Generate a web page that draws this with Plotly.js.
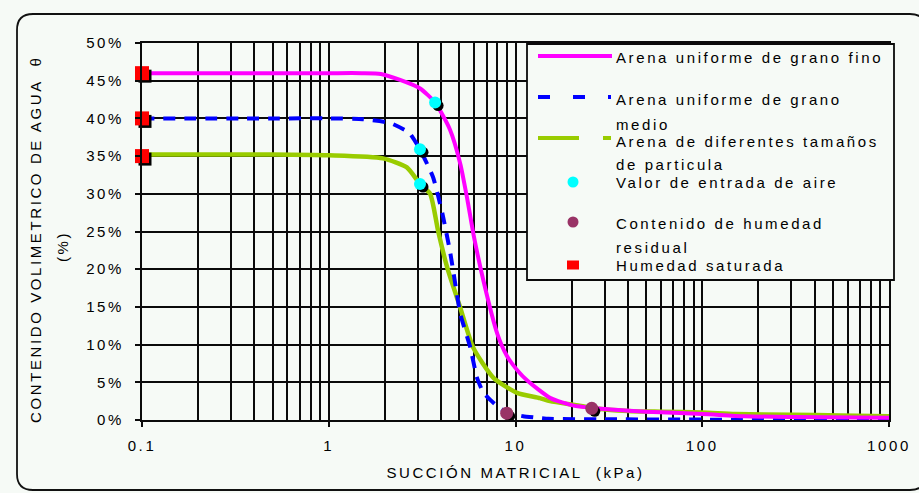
<!DOCTYPE html>
<html>
<head>
<meta charset="utf-8">
<script src="https://cdn.plot.ly/plotly-3.0.1.min.js"></script>
<style>
  html, body { margin: 0; padding: 0; background: #f6faf6; }
  #chart { width: 919px; height: 493px; }
  svg text { letter-spacing: 2.6px; }
</style>
</head>
<body>
<div id="chart"></div>
<script>
// Suction axis (kPa) decades and their labels
const decadeTicks = [0.1, 1, 10, 100, 1000];
const decadeLabels = ['0.1', '1', '10', '100', '1000'];
const minorSteps = [2, 3, 4, 5, 6, 7, 8, 9];

// Fine uniform sand
const fineX = [0.1, 0.5, 1, 1.5, 1.9, 2.41, 3.07, 3.71, 4.46, 5.06, 5.5, 5.95, 6.73, 8.0, 9.0, 10.3, 11.6, 15.4, 20.5, 26, 32.5, 50, 100, 168, 300, 1000];
const fineY = [46, 46, 46, 46, 45.9, 45.1, 44.0, 42.1, 38.5, 34.0, 29.5, 24.7, 18.5, 11.4, 8.5, 6.5, 5.2, 2.9, 1.9, 1.6, 1.4, 1.1, 0.8, 0.5, 0.4, 0.3];

// Medium uniform sand
const mediumX = [0.1, 0.5, 1, 1.52, 2.13, 2.7, 3.08, 3.62, 4.06, 4.48, 5.06, 5.73, 6.2, 6.7, 7.3, 8.0, 8.97, 10, 11, 13, 15, 30, 100, 1000];
const mediumY = [40, 40, 40, 39.9, 39.4, 38.1, 35.9, 32.2, 27.4, 22.1, 14.1, 9.6, 5.7, 3.7, 2.7, 1.8, 1.0, 0.7, 0.5, 0.3, 0.15, 0.1, 0.05, 0];

// Sand with mixed particle sizes
const mixedX = [0.1, 0.5, 1, 1.95, 2.62, 3.08, 3.49, 3.85, 4.31, 5.06, 5.94, 7.62, 10.2, 13.5, 15.3, 22, 25.6, 40, 60, 100, 150, 300, 550, 1000];
const mixedY = [35.2, 35.2, 35.1, 34.7, 33.5, 31.3, 30.0, 25.1, 20.2, 14.9, 9.6, 5.6, 3.6, 2.9, 2.5, 1.9, 1.6, 1.2, 1.1, 1.0, 0.8, 0.7, 0.6, 0.5];

// Air-entry values
const airEntryX = [3.71, 3.08, 3.08];
const airEntryY = [42.1, 35.9, 31.3];

// Residual water content
const residualX = [8.97, 25.6];
const residualY = [0.9, 1.55];

// Saturated water content
const saturatedX = [0.1, 0.1, 0.1];
const saturatedY = [46, 40, 35];

// Legend entries
const legendLines = [
  ['Arena uniforme de grano fino'],
  ['Arena uniforme de grano', 'medio'],
  ['Arena de diferentes tamaños', 'de particula'],
  ['Valor de entrada de aire'],
  ['Contenido de humedad', 'residual'],
  ['Humedad saturada']
];

// ---- plot geometry (pixels) ----
const W = 919, H = 493;
const mL = 142, mR = 30, mT = 43, mB = 73;
const plotW = W - mL - mR, plotH = H - mT - mB;
const px2x = p => (p - mL) / plotW;
const px2y = p => (H - mB - p) / plotH;
const xMin = -1, xMax = 3, yMax = 50;
const pxPerDecade = plotW / (xMax - xMin);
const pxPerUnitY = plotH / yMax;

const minorVals = [];
decadeTicks.slice(0, -1).forEach(d => minorSteps.forEach(m => minorVals.push(d * m)));

// drop shadow for point markers: a few pixels right and down
const shX = v => v * Math.pow(10, 3 / pxPerDecade);
const shY = v => v - 3 / pxPerUnitY;

const txt = '#000';
const FONT = 'Liberation Sans, Arial, sans-serif';
const GRID = '#0a0a0a';

const traces = [
  { x: mixedX, y: mixedY, mode: 'lines', line: { color: '#99cc00', width: 4.5, shape: 'spline', smoothing: 0.6 }, hoverinfo: 'skip' },
  { x: mediumX, y: mediumY, mode: 'lines', line: { color: '#0000ff', width: 4, dash: '12px,9px', shape: 'spline', smoothing: 0.4 }, hoverinfo: 'skip' },
  { x: fineX, y: fineY, mode: 'lines', line: { color: '#ff00ff', width: 4, shape: 'spline', smoothing: 0.6 }, hoverinfo: 'skip' },
  { x: airEntryX.map(shX), y: airEntryY.map(shY), mode: 'markers', marker: { color: '#000', size: 11, symbol: 'circle' }, hoverinfo: 'skip' },
  { x: airEntryX, y: airEntryY, mode: 'markers', marker: { color: '#00ffff', size: 12, symbol: 'circle' } },
  { x: residualX.map(shX), y: residualY.map(shY), mode: 'markers', marker: { color: '#000', size: 11, symbol: 'circle' }, hoverinfo: 'skip' },
  { x: residualX, y: residualY, mode: 'markers', marker: { color: '#993366', size: 13, symbol: 'circle' } },
  { x: saturatedX.map(shX), y: saturatedY.map(shY), mode: 'markers', marker: { color: '#000', size: 13, symbol: 'square' }, hoverinfo: 'skip', cliponaxis: false },
  { x: saturatedX, y: saturatedY, mode: 'markers', marker: { color: '#ff0000', size: 14, symbol: 'square' }, cliponaxis: false }
];

// ---- legend drawn as shapes + annotations ----
const boxL = 527, boxR = 894, boxT = 44, boxB = 280;
const sampleL = 538, sampleR = 611, markX = 573, textX = 615;
const shapes = [
  { type: 'rect', xref: 'paper', yref: 'paper', x0: px2x(boxL), x1: px2x(boxR), y0: px2y(boxB), y1: px2y(boxT),
    fillcolor: '#f6faf6', line: { color: GRID, width: 1.8 }, layer: 'above' },
  { type: 'line', xref: 'paper', yref: 'paper', x0: px2x(sampleL), x1: px2x(sampleR + 1), y0: px2y(56), y1: px2y(56),
    line: { color: '#ff00ff', width: 4 }, layer: 'above' },
  { type: 'line', xref: 'paper', yref: 'paper', x0: px2x(sampleL), x1: px2x(sampleR), y0: px2y(97), y1: px2y(97),
    line: { color: '#0000ff', width: 4, dash: '12px,23px' }, layer: 'above' },
  { type: 'line', xref: 'paper', yref: 'paper', x0: px2x(sampleL), x1: px2x(sampleR), y0: px2y(138), y1: px2y(138),
    line: { color: '#99cc00', width: 4, dash: '41px,24px' }, layer: 'above' },
  { type: 'circle', xref: 'paper', yref: 'paper', xsizemode: 'pixel', ysizemode: 'pixel',
    xanchor: px2x(markX), yanchor: px2y(182), x0: -5.5, x1: 5.5, y0: -5.5, y1: 5.5,
    fillcolor: '#00ffff', line: { width: 0 }, layer: 'above' },
  { type: 'circle', xref: 'paper', yref: 'paper', xsizemode: 'pixel', ysizemode: 'pixel',
    xanchor: px2x(markX), yanchor: px2y(222), x0: -5.5, x1: 5.5, y0: -5.5, y1: 5.5,
    fillcolor: '#993366', line: { width: 0 }, layer: 'above' },
  { type: 'rect', xref: 'paper', yref: 'paper', xsizemode: 'pixel', ysizemode: 'pixel',
    xanchor: px2x(markX), yanchor: px2y(265), x0: -6, x1: 6, y0: -4.5, y1: 4.5,
    fillcolor: '#ff0000', line: { width: 0 }, layer: 'above' }
];

// outer rounded frame
(function () {
  const fl = 17, ft = 14, fr = 926, fb = 490, r = 16;
  const X = px2x, Y = px2y;
  const path = 'M' + X(fl + r) + ',' + Y(ft) +
    ' L' + X(fr - r) + ',' + Y(ft) +
    ' Q' + X(fr) + ',' + Y(ft) + ' ' + X(fr) + ',' + Y(ft + r) +
    ' L' + X(fr) + ',' + Y(fb - r) +
    ' Q' + X(fr) + ',' + Y(fb) + ' ' + X(fr - r) + ',' + Y(fb) +
    ' L' + X(fl + r) + ',' + Y(fb) +
    ' Q' + X(fl) + ',' + Y(fb) + ' ' + X(fl) + ',' + Y(fb - r) +
    ' L' + X(fl) + ',' + Y(ft + r) +
    ' Q' + X(fl) + ',' + Y(ft) + ' ' + X(fl + r) + ',' + Y(ft) + ' Z';
  shapes.push({ type: 'path', xref: 'paper', yref: 'paper', path: path,
    line: { color: '#111', width: 1.8 }, fillcolor: 'rgba(0,0,0,0)', layer: 'above' });
})();

const legendRowY = [[57], [100, 124], [141, 164], [182], [223, 247], [265]];
const annotations = [];
legendLines.forEach((rows, i) => {
  rows.forEach((t, j) => {
    annotations.push({ text: t, xref: 'paper', yref: 'paper', x: px2x(textX), y: px2y(legendRowY[i][j]),
      xanchor: 'left', yanchor: 'middle', showarrow: false, borderpad: 0,
      font: { family: FONT, size: 15, color: txt } });
  });
});

// vertical axis title (two lines)
annotations.push({ text: 'CONTENIDO VOLIMETRICO DE AGUA  θ', xref: 'paper', yref: 'paper',
  x: px2x(35), y: px2y(240), xanchor: 'center', yanchor: 'middle', textangle: -90, showarrow: false,
  font: { family: FONT, size: 15, color: txt } });
annotations.push({ text: '(%)', xref: 'paper', yref: 'paper',
  x: px2x(62), y: px2y(247), xanchor: 'center', yanchor: 'middle', textangle: -90, showarrow: false,
  font: { family: FONT, size: 15, color: txt } });

const layout = {
  width: W, height: H,
  margin: { l: mL, r: mR, t: mT, b: mB },
  paper_bgcolor: '#f6faf6', plot_bgcolor: '#f6faf6',
  showlegend: false,
  font: { family: FONT, size: 15, color: txt },
  xaxis: {
    type: 'log', range: [xMin, xMax],
    tickmode: 'array', tickvals: decadeTicks, ticktext: decadeLabels,
    ticks: 'outside', ticklen: 5, tickwidth: 2, tickcolor: GRID,
    ticklabelstandoff: 6,
    showgrid: true, gridcolor: GRID, gridwidth: 2,
    minor: { tickmode: 'array', tickvals: minorVals, showgrid: true, gridcolor: GRID, gridwidth: 2, ticks: '' },
    showline: true, linecolor: GRID, linewidth: 2, mirror: true, zeroline: false,
    title: { text: 'SUCCIÓN MATRICIAL  (kPa)', font: { family: FONT, size: 15, color: txt }, standoff: 14 },
    automargin: false, fixedrange: true
  },
  yaxis: {
    range: [0, yMax], tick0: 0, dtick: 5, ticksuffix: '%',
    ticks: 'outside', ticklen: 5, tickwidth: 2, tickcolor: GRID,
    ticklabelstandoff: 8,
    showgrid: true, gridcolor: GRID, gridwidth: 2,
    showline: true, linecolor: GRID, linewidth: 2, mirror: true, zeroline: false,
    automargin: false, fixedrange: true
  },
  shapes: shapes,
  annotations: annotations
};

Plotly.newPlot('chart', traces, layout, { displayModeBar: false, staticPlot: true });
</script>
</body>
</html>
